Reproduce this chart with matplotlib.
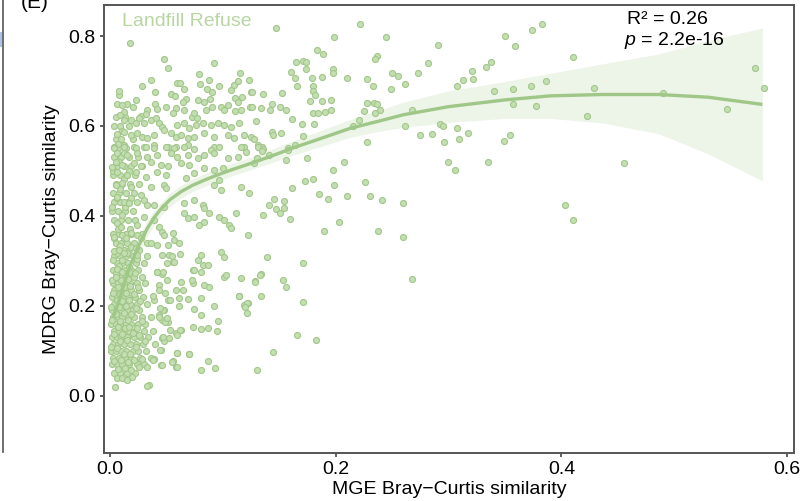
import matplotlib
matplotlib.use("Agg")
import matplotlib.pyplot as plt
from matplotlib.lines import Line2D
from matplotlib.patches import Rectangle

plt.rcParams['font.family'] = ['Liberation Sans', 'DejaVu Sans']
plt.rcParams['mathtext.fontset'] = 'custom'
plt.rcParams['mathtext.rm'] = 'Liberation Sans'
plt.rcParams['mathtext.it'] = 'Liberation Sans:italic'

# ---------------- data ----------------
# sparse points (x > ~0.12)
sparse_x = [0.383, 0.374, 0.350, 0.359, 0.291, 0.410, 0.2815, 0.273, 0.261, 0.3375, 0.333, 0.3206,
            0.3218, 0.3126, 0.307, 0.3867, 0.3733, 0.3567, 0.340, 0.4287, 0.357, 0.377, 0.268, 0.423,
            0.261, 0.2924, 0.2948, 0.2747, 0.2853, 0.3076, 0.317, 0.3096, 0.2963, 0.3547, 0.3493,
            0.2996, 0.3055, 0.335, 0.260, 0.4027, 0.410, 0.260,
            0.5718, 0.579, 0.4898, 0.5467, 0.4554, 0.2676,
            0.147, 0.2213, 0.2444, 0.1988, 0.1837, 0.189, 0.2364, 0.2347, 0.165, 0.171, 0.174, 0.1733,
            0.160, 0.1973, 0.198, 0.164, 0.1787, 0.1878, 0.2104, 0.2276, 0.2495, 0.2554, 0.2329, 0.2486,
            0.166, 0.180, 0.1796, 0.1816, 0.177, 0.1876, 0.1958, 0.1526, 0.136, 0.126, 0.1437, 0.1505,
            0.156, 0.1342, 0.142, 0.126, 0.129, 0.161, 0.1704, 0.1807, 0.1796, 0.1846, 0.1905, 0.1956,
            0.2279, 0.2335, 0.2364, 0.2388, 0.2347, 0.2252, 0.2204, 0.2157, 0.1434, 0.1446, 0.1514,
            0.1713, 0.128, 0.1313, 0.1348, 0.2281, 0.1573, 0.1641, 0.131, 0.1354, 0.1348, 0.1413,
            0.1304, 0.1274, 0.158, 0.1556, 0.1748,
            0.2071, 0.1973, 0.180, 0.1727, 0.1988, 0.1615, 0.226, 0.1855, 0.1929, 0.210, 0.2305, 0.2406,
            0.1452, 0.1544, 0.1413, 0.1467, 0.1508, 0.1538, 0.1591, 0.1354, 0.2027, 0.1896, 0.2376,
            0.1393, 0.171, 0.134, 0.1283, 0.1532,
            0.156, 0.1336, 0.171, 0.1656, 0.1828, 0.1446, 0.1304,
            0.1007, 0.1028, 0.1333, 0.1289, 0.114, 0.1215, 0.12, 0.1215]
sparse_y = [0.827, 0.813, 0.801, 0.778, 0.780, 0.753, 0.739, 0.718, 0.694, 0.743, 0.731, 0.722,
            0.705, 0.702, 0.690, 0.699, 0.689, 0.683, 0.678, 0.685, 0.650, 0.644, 0.635, 0.622,
            0.601, 0.604, 0.600, 0.581, 0.583, 0.595, 0.585, 0.571, 0.564, 0.581, 0.567,
            0.521, 0.502, 0.521, 0.428, 0.425, 0.390, 0.353,
            0.728, 0.684, 0.674, 0.638, 0.518, 0.259,
            0.817, 0.826, 0.798, 0.797, 0.768, 0.760, 0.756, 0.750, 0.742, 0.745, 0.742, 0.727,
            0.720, 0.726, 0.717, 0.707, 0.707, 0.709, 0.707, 0.704, 0.718, 0.712, 0.688, 0.683,
            0.689, 0.690, 0.677, 0.669, 0.656, 0.656, 0.658, 0.674, 0.672, 0.676, 0.650, 0.643,
            0.636, 0.639, 0.636, 0.642, 0.610, 0.615, 0.604, 0.605, 0.628, 0.629, 0.632, 0.636,
            0.651, 0.651, 0.649, 0.636, 0.630, 0.634, 0.613, 0.599, 0.587, 0.580, 0.584,
            0.578, 0.570, 0.557, 0.553, 0.564, 0.551, 0.558, 0.554, 0.549, 0.544, 0.535,
            0.528, 0.517, 0.547, 0.524, 0.528,
            0.521, 0.502, 0.483, 0.477, 0.469, 0.463, 0.476, 0.448, 0.437, 0.444, 0.444, 0.436,
            0.438, 0.433, 0.424, 0.415, 0.407, 0.418, 0.393, 0.402, 0.386, 0.367, 0.367,
            0.308, 0.296, 0.270, 0.256, 0.258,
            0.241, 0.223, 0.209, 0.136, 0.124, 0.098, 0.058,
            0.308, 0.269, 0.269, 0.254, 0.223, 0.206, 0.198, 0.185]

# medium-density points (0.03 < x < 0.13)
mid_x = [0.0178, 0.048, 0.0513, 0.0924, 0.0361, 0.0287, 0.0598, 0.0616, 0.0083, 0.040, 0.0791, 0.080,
         0.0874, 0.0856, 0.090, 0.0969, 0.107, 0.110, 0.115, 0.113, 0.123, 0.125, 0.0234, 0.0204,
         0.011, 0.0089, 0.054, 0.0575, 0.0658, 0.067, 0.0643, 0.0397, 0.042, 0.0332, 0.0273, 0.032,
         0.0498, 0.0584, 0.056, 0.0776, 0.0836, 0.0889, 0.090, 0.0847, 0.111, 0.113, 0.1167, 0.1238,
         0.1162, 0.111, 0.0984, 0.1013, 0.1043, 0.0658, 0.0723, 0.0747, 0.077,
         0.0124, 0.0184, 0.0228, 0.0258, 0.0302, 0.0361, 0.0406, 0.0436, 0.0465, 0.048,
         0.0598, 0.0658, 0.0702, 0.0762, 0.082, 0.0895, 0.0954, 0.1013, 0.1073, 0.1147,
         0.0124, 0.0184, 0.0243, 0.0287, 0.0332, 0.0391, 0.054, 0.0584, 0.0628, 0.0687, 0.0747,
         0.0836, 0.0924, 0.1043, 0.1102, 0.1191, 0.1251,
         0.0036, 0.0124, 0.0213, 0.0302, 0.0391, 0.051, 0.0584, 0.0687, 0.0924, 0.1191,
         0.0036, 0.0124, 0.0228, 0.0317, 0.0391, 0.0495, 0.0569, 0.0658, 0.0747, 0.0895, 0.0969, 0.1162,
         0.0065, 0.0154, 0.0243, 0.0332, 0.042, 0.054, 0.0598, 0.0687, 0.0776, 0.0836, 0.0924, 0.1043,
         0.1132, 0.1206,
         0.0051, 0.011, 0.0213, 0.0273, 0.0361, 0.0451, 0.051, 0.0628, 0.0702, 0.0836, 0.0924, 0.0999,
         0.0065, 0.0154, 0.0228, 0.0317, 0.042, 0.0495, 0.0673, 0.0747,
         0.0051, 0.011, 0.0184, 0.0361, 0.048, 0.0495, 0.0924, 0.0969, 0.0984, 0.1162, 0.1236,
         0.0065, 0.0124, 0.0169, 0.0273, 0.0302, 0.0332, 0.0391, 0.048, 0.0658, 0.0747, 0.082, 0.0836,
         0.088,
         0.0658, 0.0687, 0.0747, 0.0791, 0.0836, 0.0969, 0.1013, 0.1058, 0.1073, 0.1117, 0.122,
         0.0065, 0.0095, 0.011, 0.0036, 0.014, 0.0184, 0.0243, 0.0273, 0.0243, 0.0302, 0.0391, 0.0436,
         0.0465,
         0.048, 0.0554, 0.0569, 0.0613, 0.051, 0.042, 0.0361,
         0.0036, 0.008, 0.0124, 0.0228, 0.0243, 0.0465, 0.0524, 0.0554, 0.0776, 0.082, 0.0865, 0.0984,
         0.0806,
         0.0065, 0.011, 0.0051, 0.0169, 0.042, 0.0465, 0.0732, 0.0806, 0.1013, 0.1162,
         0.0436, 0.0628, 0.0732, 0.0836, 0.088, 0.0584, 0.0643, 0.0391, 0.051, 0.0613, 0.0687, 0.0806,
         0.0613, 0.074, 0.0924, 0.1147, 0.1191, 0.122, 0.0806, 0.0436, 0.048, 0.0465, 0.051, 0.0954,
         0.0732, 0.0806, 0.0871, 0.0945, 0.0628, 0.0584, 0.0465, 0.048, 0.045, 0.0598, 0.0702,
         0.0391, 0.0554, 0.0584, 0.045, 0.0871, 0.0806, 0.0933, 0.0332, 0.0347, 0.0332, 0.0044,
         0.0065, 0.011, 0.0198, 0.0154,
         0.074, 0.0726, 0.0696, 0.0593, 0.0593, 0.0548, 0.0444, 0.0385, 0.046, 0.0533, 0.0474,
         0.0519, 0.0622, 0.0593, 0.0489, 0.0504, 0.0430, 0.0474, 0.0444, 0.0533, 0.0385, 0.043,
         0.0489, 0.0504, 0.0548, 0.0622, 0.0563, 0.0326, 0.0415, 0.0474, 0.0504]
mid_y = [0.784, 0.748, 0.730, 0.741, 0.702, 0.689, 0.696, 0.696, 0.678, 0.675, 0.715, 0.693,
         0.702, 0.682, 0.676, 0.689, 0.680, 0.691, 0.717, 0.700, 0.702, 0.676, 0.658, 0.643,
         0.647, 0.624, 0.671, 0.667, 0.682, 0.659, 0.654, 0.649, 0.638, 0.636, 0.622, 0.627,
         0.642, 0.639, 0.628, 0.658, 0.654, 0.659, 0.643, 0.636, 0.662, 0.653, 0.664, 0.642,
         0.636, 0.633, 0.642, 0.636, 0.647, 0.636, 0.621, 0.628, 0.617,
         0.613, 0.613, 0.606, 0.617, 0.606, 0.613, 0.617, 0.606, 0.598, 0.591,
         0.602, 0.606, 0.595, 0.602, 0.606, 0.602, 0.606, 0.602, 0.598, 0.606,
         0.587, 0.580, 0.584, 0.576, 0.573, 0.580, 0.584, 0.576, 0.580, 0.573, 0.576,
         0.584, 0.576, 0.580, 0.573, 0.580, 0.576,
         0.554, 0.558, 0.554, 0.553, 0.558, 0.554, 0.554, 0.558, 0.554, 0.554,
         0.550, 0.554, 0.550, 0.554, 0.550, 0.554, 0.550, 0.554, 0.549, 0.547, 0.554, 0.554,
         0.539, 0.536, 0.539, 0.532, 0.536, 0.539, 0.532, 0.536, 0.528, 0.536, 0.539, 0.528,
         0.532, 0.543,
         0.521, 0.513, 0.517, 0.510, 0.521, 0.513, 0.510, 0.517, 0.513, 0.507, 0.502, 0.507,
         0.498, 0.491, 0.498, 0.487, 0.498, 0.491, 0.484, 0.495,
         0.469, 0.473, 0.465, 0.465, 0.469, 0.462, 0.469, 0.480, 0.458, 0.465, 0.450,
         0.443, 0.432, 0.428, 0.447, 0.436, 0.424, 0.424, 0.421, 0.428, 0.436, 0.424, 0.417,
         0.406,
         0.406, 0.395, 0.398, 0.380, 0.387, 0.398, 0.391, 0.380, 0.373, 0.406, 0.358,
         0.384, 0.376, 0.358, 0.354, 0.351, 0.362, 0.358, 0.351, 0.380, 0.398, 0.391, 0.376,
         0.365,
         0.358, 0.362, 0.347, 0.339, 0.336, 0.336, 0.339,
         0.321, 0.324, 0.317, 0.329, 0.313, 0.313, 0.313, 0.298, 0.302, 0.291, 0.291, 0.319,
         0.313,
         0.282, 0.276, 0.265, 0.276, 0.276, 0.272, 0.280, 0.276, 0.265, 0.262,
         0.247, 0.254, 0.250, 0.247, 0.243, 0.236, 0.236, 0.213, 0.213, 0.217, 0.215, 0.217,
         0.199, 0.193, 0.199, 0.222, 0.202, 0.207, 0.180, 0.180, 0.191, 0.169, 0.165, 0.167,
         0.154, 0.148, 0.150, 0.145, 0.147, 0.139, 0.128, 0.121, 0.102, 0.096, 0.093,
         0.082, 0.078, 0.065, 0.069, 0.078, 0.058, 0.062, 0.065, 0.024, 0.021, 0.019,
         0.039, 0.039, 0.043, 0.036,
         0.280, 0.258, 0.093, 0.095, 0.065, 0.076, 0.102, 0.080, 0.069, 0.147, 0.132,
         0.128, 0.147, 0.136, 0.165, 0.173, 0.176, 0.191, 0.195, 0.213, 0.221, 0.236,
         0.228, 0.295, 0.310, 0.316, 0.298, 0.310, 0.276, 0.276, 0.258]

# dense core next to x = 0 (first pass)
core_x = [0.004, 0.009, 0.015, 0.022,
          0.002, 0.006, 0.011, 0.017, 0.024, 0.030,
          0.003, 0.008, 0.013, 0.019, 0.027, 0.036,
          0.001, 0.005, 0.010, 0.014, 0.020, 0.025, 0.032,
          0.003, 0.007, 0.012, 0.018, 0.023, 0.029, 0.040,
          0.002, 0.006, 0.010, 0.015, 0.021, 0.027, 0.034,
          0.004, 0.008, 0.013, 0.017, 0.022, 0.030, 0.038,
          0.001, 0.005, 0.009, 0.014, 0.019, 0.025, 0.031,
          0.003, 0.007, 0.011, 0.016, 0.021, 0.028, 0.036,
          0.002, 0.006, 0.010, 0.015, 0.020, 0.026,
          0.004, 0.008, 0.012, 0.018, 0.024, 0.033,
          0.002, 0.006, 0.011, 0.016, 0.022, 0.029,
          0.004, 0.009, 0.014, 0.019, 0.026,
          0.003, 0.007, 0.012, 0.018, 0.024, 0.031,
          0.005, 0.010, 0.015, 0.021, 0.028,
          0.003, 0.008, 0.013, 0.019, 0.025,
          0.006, 0.011, 0.016, 0.023, 0.030,
          0.004, 0.009, 0.014, 0.020,
          0.007, 0.012, 0.017, 0.026,
          0.005, 0.010, 0.015, 0.021, 0.033,
          0.003, 0.008, 0.014, 0.019, 0.028,
          0.004, 0.010, 0.016, 0.022,
          0.002, 0.007, 0.013, 0.020,
          0.004, 0.009, 0.016, 0.024,
          0.003, 0.008, 0.014, 0.021,
          0.005, 0.011, 0.018, 0.026,
          0.003, 0.009, 0.015, 0.022,
          0.006, 0.012, 0.019, 0.028,
          0.004, 0.010, 0.017, 0.025,
          0.007, 0.014,
          0.005, 0.010, 0.020,
          0.004, 0.009, 0.017,
          0.005, 0.013,
          0.006, 0.015]
core_y = [0.05] * 4 + [0.07] * 6 + [0.085] * 6 + [0.10] * 7 + [0.115] * 7 + [0.13] * 7 + \
         [0.145] * 7 + [0.16] * 7 + [0.175] * 7 + [0.19] * 6 + [0.205] * 6 + [0.22] * 6 + \
         [0.235] * 5 + [0.25] * 6 + [0.265] * 5 + [0.28] * 5 + [0.295] * 5 + [0.31] * 4 + \
         [0.325] * 4 + [0.34] * 5 + [0.36] * 5 + [0.39] * 4 + [0.41] * 4 + [0.43] * 4 + \
         [0.45] * 4 + [0.47] * 4 + [0.49] * 4 + [0.51] * 4 + [0.53] * 4 + [0.55] * 2 + \
         [0.57] * 3 + [0.60] * 3 + [0.62] * 2 + [0.65] * 2

# dense core, second pass (points lying between the first-pass ones)
core2_x = [0.007, 0.013, 0.019, 0.026, 0.004, 0.010, 0.016, 0.021, 0.028, 0.012, 0.018, 0.001,
           0.006, 0.023, 0.009, 0.015, 0.031, 0.004, 0.011, 0.020, 0.026, 0.007, 0.013, 0.017,
           0.024, 0.002, 0.009, 0.016, 0.028, 0.005, 0.012, 0.019, 0.001, 0.008, 0.014, 0.023,
           0.006, 0.011, 0.017, 0.027, 0.003, 0.009, 0.014, 0.021, 0.007, 0.012, 0.018, 0.025,
           0.002, 0.010, 0.016, 0.005, 0.013, 0.022, 0.008, 0.017, 0.003, 0.011, 0.024, 0.006,
           0.015, 0.009, 0.019, 0.004, 0.012, 0.007, 0.018, 0.011, 0.002, 0.013, 0.006, 0.019,
           0.009, 0.012, 0.003, 0.017, 0.008, 0.012, 0.007, 0.011, 0.002, 0.006, 0.012, 0.008]
core2_y = [0.060, 0.062, 0.058, 0.064, 0.078, 0.080, 0.076, 0.079, 0.082, 0.093, 0.092, 0.108,
           0.107, 0.109, 0.122, 0.124, 0.121, 0.138, 0.137, 0.139, 0.136, 0.153, 0.152, 0.154,
           0.151, 0.168, 0.167, 0.169, 0.166, 0.183, 0.184, 0.182, 0.198, 0.197, 0.199, 0.196,
           0.213, 0.212, 0.214, 0.211, 0.228, 0.227, 0.229, 0.226, 0.243, 0.242, 0.244, 0.241,
           0.258, 0.257, 0.259, 0.273, 0.272, 0.274, 0.288, 0.287, 0.303, 0.302, 0.304, 0.318,
           0.317, 0.333, 0.332, 0.350, 0.351, 0.372, 0.370, 0.402, 0.421, 0.420, 0.440, 0.441,
           0.461, 0.482, 0.501, 0.500, 0.521, 0.541, 0.561, 0.589, 0.508, 0.582, 0.632, 0.668]

# fitted curve and its confidence band
fit_x = [0.003, 0.008, 0.0124, 0.018, 0.025, 0.033, 0.039, 0.045, 0.053, 0.063, 0.073, 0.084,
         0.095, 0.107, 0.125, 0.145, 0.163, 0.19, 0.213, 0.24, 0.26, 0.30, 0.35, 0.39, 0.436,
         0.486, 0.53, 0.578]
fit_y = [0.175, 0.212, 0.248, 0.29, 0.332, 0.372, 0.396, 0.415, 0.436, 0.454, 0.468, 0.48,
         0.491, 0.502, 0.517, 0.535, 0.552, 0.575, 0.595, 0.612, 0.625, 0.643, 0.658, 0.667, 0.670,
         0.670, 0.664, 0.648]
fit_lo = [0.148, 0.188, 0.227, 0.27, 0.313, 0.355, 0.380, 0.400, 0.421, 0.440, 0.454, 0.466,
          0.477, 0.488, 0.503, 0.520, 0.536, 0.557, 0.575, 0.589, 0.597, 0.608, 0.617, 0.617, 0.607,
          0.583, 0.538, 0.478]
fit_hi = [0.205, 0.237, 0.27, 0.31, 0.350, 0.389, 0.412, 0.430, 0.451, 0.468, 0.482, 0.494,
          0.505, 0.516, 0.531, 0.550, 0.568, 0.593, 0.615, 0.636, 0.653, 0.678, 0.699, 0.717, 0.738,
          0.760, 0.790, 0.818]

x_ticks = [0.0, 0.2, 0.4, 0.6]
y_ticks = [0.0, 0.2, 0.4, 0.6, 0.8]

# ---------------- drawing ----------------
W, H = 803, 501
fig = plt.figure(figsize=(W / 100, H / 100), dpi=100)
ax = fig.add_axes([104 / W, 1 - 453 / H, (794 - 104) / W, (453 - 5) / H])

pt_face = '#c3deb0'
pt_edge = '#a2c78a'
all_x = core_x + core2_x + mid_x + sparse_x
all_y = core_y + core2_y + mid_y + sparse_y

ax.fill_between(fit_x, fit_lo, fit_hi, color='#edf4e8', linewidth=0, zorder=1)
ax.scatter(all_x, all_y, s=19, facecolor=pt_face, edgecolor=pt_edge, linewidths=0.8, zorder=2)
ax.plot(fit_x, fit_y, color='#9fc787', linewidth=2.4, solid_capstyle='butt',
        solid_joinstyle='round', zorder=3)

ax.set_xlim(-0.0053, 0.606)
ax.set_ylim(-0.127, 0.869)
ax.set_xticks(x_ticks)
ax.set_yticks(y_ticks)
ax.set_xticklabels([f"{v:.1f}" for v in x_ticks])
ax.set_yticklabels([f"{v:.1f}" for v in y_ticks])
ax.tick_params(axis='both', labelsize=14, length=3, width=1.2, color='#444444', pad=3, labelcolor='black')
for sp in ax.spines.values():
    sp.set_color('#555555')
    sp.set_linewidth(1.4)

ax.set_xlabel('MGE Bray\u2212Curtis similarity', fontsize=14, labelpad=2)
ax.set_ylabel('MDRG Bray\u2212Curtis similarity', fontsize=14, labelpad=6)

fig.text(122 / W, 1 - 22 / H, 'Landfill Refuse', fontsize=14, color='#b7d6a2', ha='left', va='center')
fig.text(627 / W, 1 - 20 / H, 'R\u00b2 = 0.26', fontsize=14, ha='left', va='center')
fig.text(624 / W, 1 - 41 / H, '$p$ = 2.2e-16', fontsize=14, ha='left', va='center')
fig.text(21 / W, 1 - 2 / H, '(E)', fontsize=15, ha='left', va='center')

# fragment of the neighbouring panel at the left edge
fig.add_artist(Line2D([3 / W, 3 / W], [1 - 452 / H, 1.0], transform=fig.transFigure,
                      color='#555555', linewidth=1.2))
fig.add_artist(Rectangle((0, 1 - 47 / H), 2 / W, 15 / H, transform=fig.transFigure,
                         color='#a9c4e6', linewidth=0))

fig.savefig('out.png', dpi=100)
